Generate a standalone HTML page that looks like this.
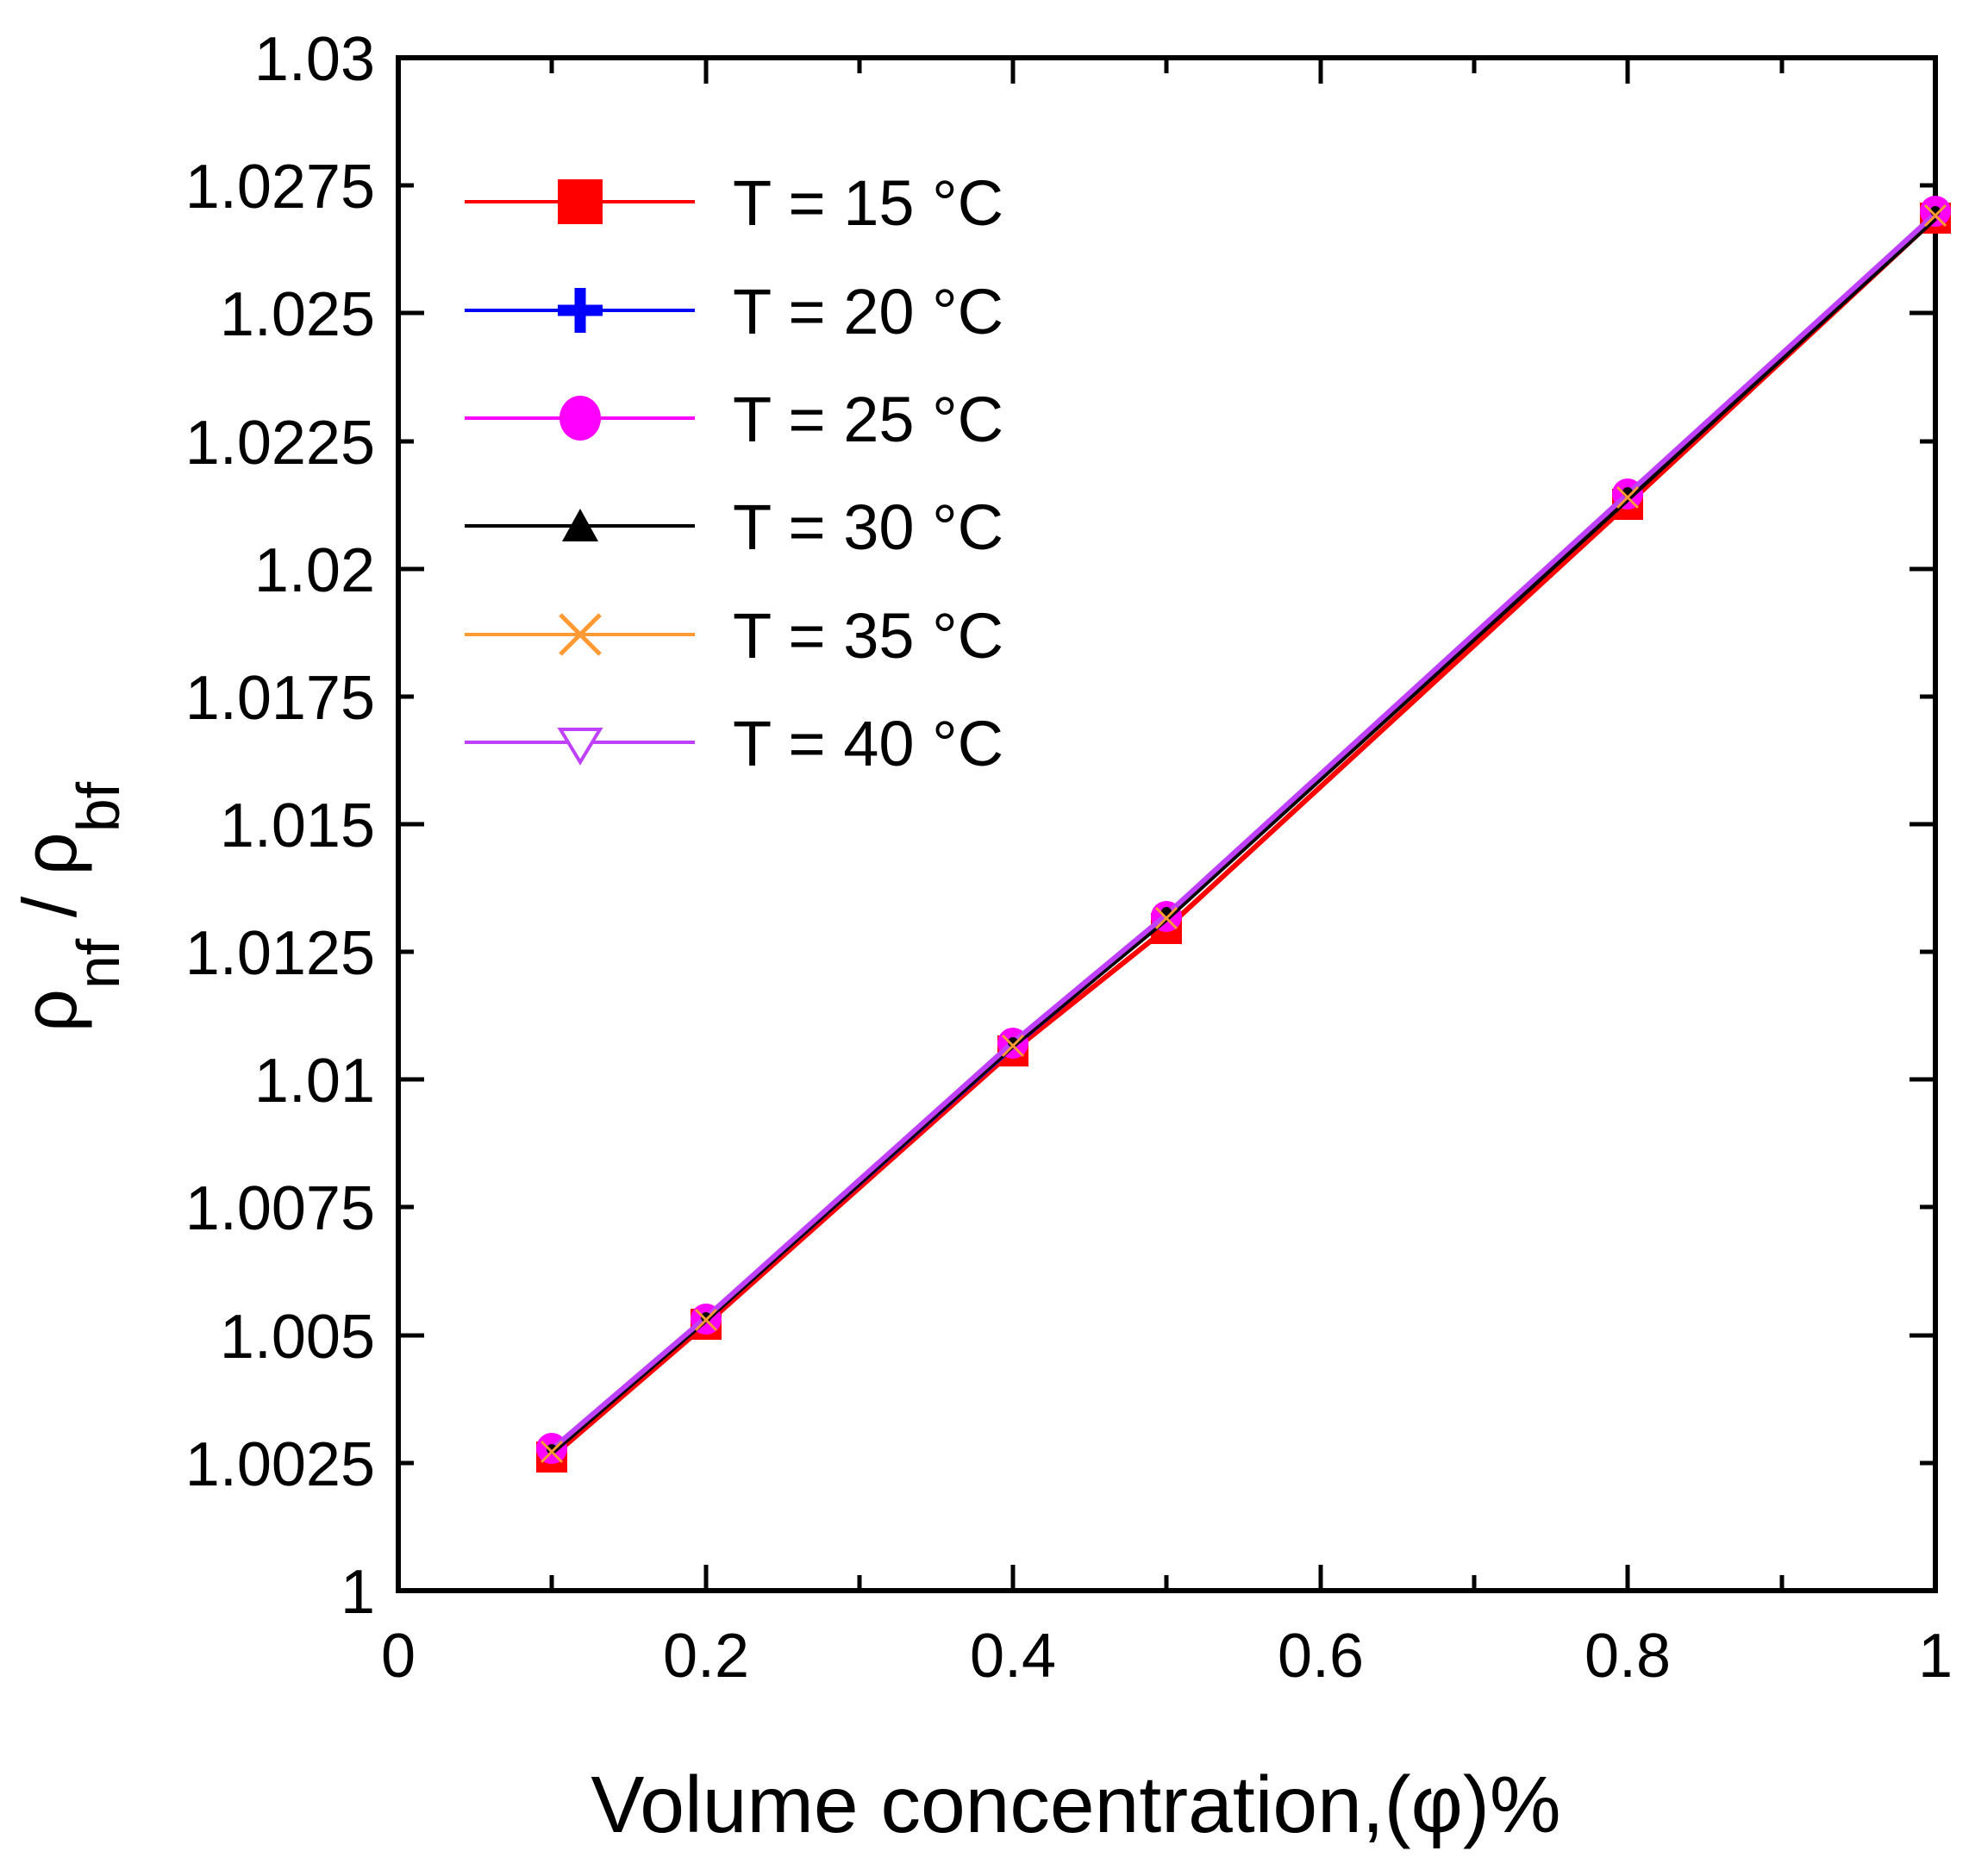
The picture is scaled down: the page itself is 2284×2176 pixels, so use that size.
<!DOCTYPE html>
<html><head><meta charset="utf-8"><style>
html,body{margin:0;padding:0;background:#fff;}
svg text{font-family:"Liberation Sans",sans-serif;fill:#000;}
</style></head><body>
<svg width="2284" height="2171" viewBox="0 0 2284 2171" xmlns="http://www.w3.org/2000/svg">
<defs>
<clipPath id="c"><rect x="440" y="40" width="1830" height="1830"/></clipPath>
</defs>
<g stroke="#000" stroke-width="5">
<line x1="462" y1="67" x2="492" y2="67"/><line x1="462" y1="363" x2="492" y2="363"/><line x1="462" y1="660" x2="492" y2="660"/><line x1="462" y1="956" x2="492" y2="956"/><line x1="462" y1="1252" x2="492" y2="1252"/><line x1="462" y1="1549" x2="492" y2="1549"/>
<line x1="462" y1="215" x2="480" y2="215"/><line x1="462" y1="512" x2="480" y2="512"/><line x1="462" y1="808" x2="480" y2="808"/><line x1="462" y1="1104" x2="480" y2="1104"/><line x1="462" y1="1400" x2="480" y2="1400"/><line x1="462" y1="1697" x2="480" y2="1697"/>
<line x1="2245" y1="363" x2="2215" y2="363"/><line x1="2245" y1="660" x2="2215" y2="660"/><line x1="2245" y1="956" x2="2215" y2="956"/><line x1="2245" y1="1252" x2="2215" y2="1252"/><line x1="2245" y1="1549" x2="2215" y2="1549"/>
<line x1="2245" y1="215" x2="2227" y2="215"/><line x1="2245" y1="512" x2="2227" y2="512"/><line x1="2245" y1="808" x2="2227" y2="808"/><line x1="2245" y1="1104" x2="2227" y2="1104"/><line x1="2245" y1="1400" x2="2227" y2="1400"/><line x1="2245" y1="1697" x2="2227" y2="1697"/>
<line x1="819" y1="1845" x2="819" y2="1815"/><line x1="1175" y1="1845" x2="1175" y2="1815"/><line x1="1532" y1="1845" x2="1532" y2="1815"/><line x1="1888" y1="1845" x2="1888" y2="1815"/>
<line x1="640" y1="1845" x2="640" y2="1827"/><line x1="997" y1="1845" x2="997" y2="1827"/><line x1="1353" y1="1845" x2="1353" y2="1827"/><line x1="1710" y1="1845" x2="1710" y2="1827"/><line x1="2067" y1="1845" x2="2067" y2="1827"/>
<line x1="819" y1="67" x2="819" y2="97"/><line x1="1175" y1="67" x2="1175" y2="97"/><line x1="1532" y1="67" x2="1532" y2="97"/><line x1="1888" y1="67" x2="1888" y2="97"/>
<line x1="640" y1="67" x2="640" y2="85"/><line x1="997" y1="67" x2="997" y2="85"/><line x1="1353" y1="67" x2="1353" y2="85"/><line x1="1710" y1="67" x2="1710" y2="85"/><line x1="2067" y1="67" x2="2067" y2="85"/>
</g>
<rect x="462" y="67" width="1783" height="1778" fill="none" stroke="#000" stroke-width="6"/>
<g font-size="72" text-anchor="end">
<text x="435" y="93">1.03</text><text x="435" y="241">1.0275</text><text x="435" y="389">1.025</text><text x="435" y="538">1.0225</text><text x="435" y="686">1.02</text><text x="435" y="834">1.0175</text><text x="435" y="982">1.015</text><text x="435" y="1130">1.0125</text><text x="435" y="1278">1.01</text><text x="435" y="1426">1.0075</text><text x="435" y="1575">1.005</text><text x="435" y="1723">1.0025</text><text x="435" y="1871">1</text>
</g>
<g font-size="72" text-anchor="middle">
<text x="462" y="1945">0</text><text x="819" y="1945">0.2</text><text x="1175" y="1945">0.4</text><text x="1532" y="1945">0.6</text><text x="1888" y="1945">0.8</text><text x="2245" y="1945">1</text>
</g>
<text x="1248" y="2125" font-size="93" text-anchor="middle">Volume concentration,(φ)%</text>
<text transform="translate(88,1052) rotate(-90)" font-size="88" text-anchor="middle">ρ<tspan font-size="70" dy="50">nf</tspan><tspan dy="-50"> / </tspan>ρ<tspan font-size="70" dy="50">bf</tspan></text>
<g clip-path="url(#c)" fill="none" stroke-width="6" stroke-linejoin="round">
<polyline stroke="#ff0000" points="640,1690 819,1536 1175,1219 1353,1077 1888,585 2245,253"/>
<rect x="622" y="1672" width="36" height="36" fill="#ff0000" stroke="none"/><rect x="801" y="1518" width="36" height="36" fill="#ff0000" stroke="none"/><rect x="1157" y="1201" width="36" height="36" fill="#ff0000" stroke="none"/><rect x="1335" y="1059" width="36" height="36" fill="#ff0000" stroke="none"/><rect x="1870" y="567" width="36" height="36" fill="#ff0000" stroke="none"/><rect x="2227" y="235" width="36" height="36" fill="#ff0000" stroke="none"/>
<polyline stroke="#0000ff" points="640,1685 819,1531 1175,1214 1353,1065 1888,577 2245,250"/>
<polyline stroke="#ff00ff" points="640,1683 819,1530 1175,1211 1353,1063 1888,575 2245,248"/>
<g fill="#ff00ff" stroke="none"><circle cx="640" cy="1680" r="18"/><circle cx="819" cy="1530" r="18"/><circle cx="1175" cy="1210" r="18"/><circle cx="1353" cy="1063" r="18"/><circle cx="1888" cy="573" r="18"/><circle cx="2245" cy="245" r="18"/></g>
<polyline stroke="#000" points="640,1685 819,1531 1175,1213 1353,1066 1888,579 2245,253"/>
<polyline stroke="#c040ff" points="640,1681 819,1528 1175,1209 1353,1061 1888,573 2245,248"/>
<g fill="#000" stroke="none"><circle cx="640" cy="1681" r="6"/><circle cx="819" cy="1528" r="6"/><circle cx="1175" cy="1209" r="6"/><circle cx="1353" cy="1058" r="6"/><circle cx="1888" cy="571" r="6"/><circle cx="2245" cy="245" r="6"/></g>
<g stroke="#ff9933" stroke-width="3"><path d="M628,1672l24,24M652,1672l-24,24M807,1519l24,24M831,1519l-24,24M1163,1201l24,24M1187,1201l-24,24M1341,1053l24,24M1365,1053l-24,24M1876,565l24,24M1900,565l-24,24M2233,238l24,24M2257,238l-24,24"/></g>
</g>
<g stroke-width="4">
<line x1="539" y1="234" x2="806" y2="234" stroke="#ff0000"/><rect x="647" y="208" width="52" height="52" fill="#ff0000"/>
<line x1="539" y1="360" x2="806" y2="360" stroke="#0000ff"/><path d="M673,334v52M647,360h52" stroke="#0000ff" stroke-width="13"/>
<line x1="539" y1="485" x2="806" y2="485" stroke="#ff00ff"/><ellipse cx="673" cy="485" rx="24" ry="26" fill="#ff00ff"/>
<line x1="539" y1="610" x2="806" y2="610" stroke="#000"/><path d="M673,590l-21,38h42z" fill="#000" stroke="none"/>
<line x1="539" y1="736" x2="806" y2="736" stroke="#ff9933"/><path d="M650,713l46,46M696,713l-46,46" stroke="#ff9933" stroke-width="5"/>
<line x1="539" y1="861" x2="806" y2="861" stroke="#c040ff"/><path d="M650,846h46l-23,38z" fill="#fff" stroke="#c040ff" stroke-width="4"/>
</g>
<g font-size="74">
<text x="850" y="261">T = 15 °C</text><text x="850" y="387">T = 20 °C</text><text x="850" y="512">T = 25 °C</text><text x="850" y="637">T = 30 °C</text><text x="850" y="763">T = 35 °C</text><text x="850" y="888">T = 40 °C</text>
</g>
</svg>
</body></html>
